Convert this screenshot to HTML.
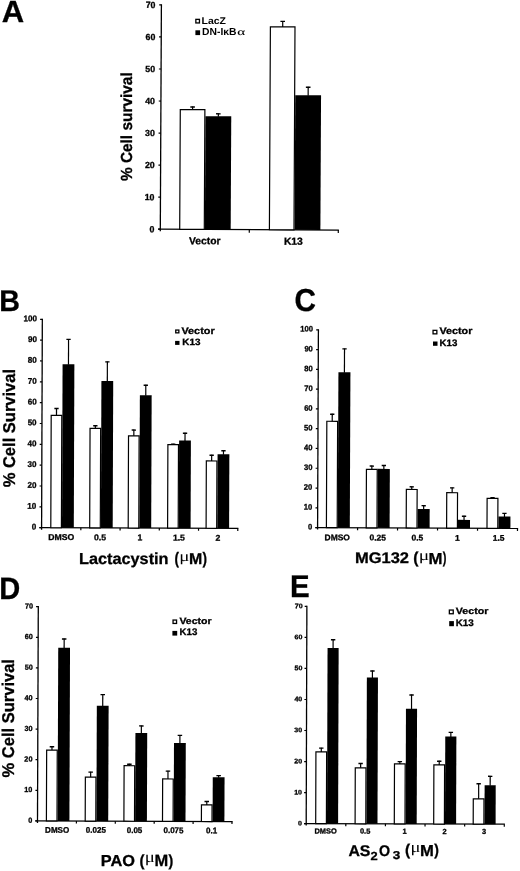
<!DOCTYPE html>
<html><head><meta charset="utf-8"><style>
html,body{margin:0;padding:0;background:#fff;}
body{width:520px;height:871px;overflow:hidden;}
svg{display:block;filter:grayscale(1);}
text{fill:#000;text-rendering:geometricPrecision;}
</style></head><body>
<svg width="520" height="871" viewBox="0 0 520 871">
<rect width="520" height="871" fill="#fff"/>
<g transform="rotate(0.28 160.3 229.2)">
<line x1="160.3" y1="4.3" x2="160.3" y2="231.2" stroke="#000" stroke-width="1.3"/>
<line x1="158.1" y1="229.2" x2="160.3" y2="229.2" stroke="#000" stroke-width="1.2"/>
<text transform="translate(149.47,232.22)" font-size="8.80" font-weight="bold" font-family='"Liberation Sans", sans-serif' stroke="#000" stroke-width="0.3" >0</text>
<line x1="158.1" y1="197.16" x2="160.3" y2="197.16" stroke="#000" stroke-width="1.2"/>
<text transform="translate(144.58,200.18)" font-size="8.80" font-weight="bold" font-family='"Liberation Sans", sans-serif' stroke="#000" stroke-width="0.3" >10</text>
<line x1="158.1" y1="165.11" x2="160.3" y2="165.11" stroke="#000" stroke-width="1.2"/>
<text transform="translate(144.58,168.14)" font-size="8.80" font-weight="bold" font-family='"Liberation Sans", sans-serif' stroke="#000" stroke-width="0.3" >20</text>
<line x1="158.1" y1="133.07" x2="160.3" y2="133.07" stroke="#000" stroke-width="1.2"/>
<text transform="translate(144.58,136.09)" font-size="8.80" font-weight="bold" font-family='"Liberation Sans", sans-serif' stroke="#000" stroke-width="0.3" >30</text>
<line x1="158.1" y1="101.03" x2="160.3" y2="101.03" stroke="#000" stroke-width="1.2"/>
<text transform="translate(144.58,104.05)" font-size="8.80" font-weight="bold" font-family='"Liberation Sans", sans-serif' stroke="#000" stroke-width="0.3" >40</text>
<line x1="158.1" y1="68.99" x2="160.3" y2="68.99" stroke="#000" stroke-width="1.2"/>
<text transform="translate(144.58,72.01)" font-size="8.80" font-weight="bold" font-family='"Liberation Sans", sans-serif' stroke="#000" stroke-width="0.3" >50</text>
<line x1="158.1" y1="36.94" x2="160.3" y2="36.94" stroke="#000" stroke-width="1.2"/>
<text transform="translate(144.58,39.97)" font-size="8.80" font-weight="bold" font-family='"Liberation Sans", sans-serif' stroke="#000" stroke-width="0.3" >60</text>
<line x1="158.1" y1="4.9" x2="160.3" y2="4.9" stroke="#000" stroke-width="1.2"/>
<text transform="translate(144.58,7.93)" font-size="8.80" font-weight="bold" font-family='"Liberation Sans", sans-serif' stroke="#000" stroke-width="0.3" >70</text>
<line x1="158.1" y1="229.2" x2="338.9" y2="229.2" stroke="#000" stroke-width="1.3"/>
<line x1="249.3" y1="229.2" x2="249.3" y2="232.2" stroke="#000" stroke-width="1.2"/>
<line x1="338.3" y1="229.2" x2="338.3" y2="232.2" stroke="#000" stroke-width="1.2"/>
<rect x="179.7" y="109.5" width="24.6" height="119.7" fill="#fff" stroke="#000" stroke-width="1.2"/>
<line x1="192" y1="109.5" x2="192" y2="106.4" stroke="#000" stroke-width="1.2"/>
<line x1="189.7" y1="106.85" x2="194.3" y2="106.85" stroke="#000" stroke-width="1.4"/>
<rect x="204.9" y="116" width="25.8" height="113.2" fill="#000"/>
<line x1="217.8" y1="116.5" x2="217.8" y2="113.1" stroke="#000" stroke-width="1.2"/>
<line x1="215.5" y1="113.55" x2="220.1" y2="113.55" stroke="#000" stroke-width="1.4"/>
<text transform="translate(189.09,244.09)" font-size="10.30" font-weight="bold" font-family='"Liberation Sans", sans-serif' stroke="#000" stroke-width="0.3" >Vector</text>
<rect x="269.4" y="26.3" width="24.6" height="202.9" fill="#fff" stroke="#000" stroke-width="1.2"/>
<line x1="281.7" y1="26.3" x2="281.7" y2="20.3" stroke="#000" stroke-width="1.2"/>
<line x1="279.4" y1="20.75" x2="284" y2="20.75" stroke="#000" stroke-width="1.4"/>
<rect x="294.6" y="94.5" width="25.8" height="134.7" fill="#000"/>
<line x1="307.5" y1="95" x2="307.5" y2="86.1" stroke="#000" stroke-width="1.2"/>
<line x1="305.2" y1="86.55" x2="309.8" y2="86.55" stroke="#000" stroke-width="1.4"/>
<text transform="translate(284,244.13)" font-size="10.30" font-weight="bold" font-family='"Liberation Sans", sans-serif' stroke="#000" stroke-width="0.3" >K13</text>
</g>
<g transform="rotate(0.2 41.6 527.7)">
<line x1="41.6" y1="318.7" x2="41.6" y2="529.7" stroke="#000" stroke-width="1.3"/>
<line x1="39.4" y1="527.7" x2="41.6" y2="527.7" stroke="#000" stroke-width="1.2"/>
<text transform="translate(31.75,529.6) scale(0.970,1)" font-size="8.30" font-weight="bold" font-family='"Liberation Sans", sans-serif' stroke="#000" stroke-width="0.3" >0</text>
<line x1="39.4" y1="506.86" x2="41.6" y2="506.86" stroke="#000" stroke-width="1.2"/>
<text transform="translate(27.29,508.76) scale(0.970,1)" font-size="8.30" font-weight="bold" font-family='"Liberation Sans", sans-serif' stroke="#000" stroke-width="0.3" >10</text>
<line x1="39.4" y1="486.02" x2="41.6" y2="486.02" stroke="#000" stroke-width="1.2"/>
<text transform="translate(27.29,487.92) scale(0.970,1)" font-size="8.30" font-weight="bold" font-family='"Liberation Sans", sans-serif' stroke="#000" stroke-width="0.3" >20</text>
<line x1="39.4" y1="465.18" x2="41.6" y2="465.18" stroke="#000" stroke-width="1.2"/>
<text transform="translate(27.29,467.07) scale(0.970,1)" font-size="8.30" font-weight="bold" font-family='"Liberation Sans", sans-serif' stroke="#000" stroke-width="0.3" >30</text>
<line x1="39.4" y1="444.34" x2="41.6" y2="444.34" stroke="#000" stroke-width="1.2"/>
<text transform="translate(27.29,446.24) scale(0.970,1)" font-size="8.30" font-weight="bold" font-family='"Liberation Sans", sans-serif' stroke="#000" stroke-width="0.3" >40</text>
<line x1="39.4" y1="423.5" x2="41.6" y2="423.5" stroke="#000" stroke-width="1.2"/>
<text transform="translate(27.29,425.4) scale(0.970,1)" font-size="8.30" font-weight="bold" font-family='"Liberation Sans", sans-serif' stroke="#000" stroke-width="0.3" >50</text>
<line x1="39.4" y1="402.66" x2="41.6" y2="402.66" stroke="#000" stroke-width="1.2"/>
<text transform="translate(27.29,404.56) scale(0.970,1)" font-size="8.30" font-weight="bold" font-family='"Liberation Sans", sans-serif' stroke="#000" stroke-width="0.3" >60</text>
<line x1="39.4" y1="381.82" x2="41.6" y2="381.82" stroke="#000" stroke-width="1.2"/>
<text transform="translate(27.29,383.72) scale(0.970,1)" font-size="8.30" font-weight="bold" font-family='"Liberation Sans", sans-serif' stroke="#000" stroke-width="0.3" >70</text>
<line x1="39.4" y1="360.98" x2="41.6" y2="360.98" stroke="#000" stroke-width="1.2"/>
<text transform="translate(27.29,362.88) scale(0.970,1)" font-size="8.30" font-weight="bold" font-family='"Liberation Sans", sans-serif' stroke="#000" stroke-width="0.3" >80</text>
<line x1="39.4" y1="340.14" x2="41.6" y2="340.14" stroke="#000" stroke-width="1.2"/>
<text transform="translate(27.29,342.04) scale(0.970,1)" font-size="8.30" font-weight="bold" font-family='"Liberation Sans", sans-serif' stroke="#000" stroke-width="0.3" >90</text>
<line x1="39.4" y1="319.3" x2="41.6" y2="319.3" stroke="#000" stroke-width="1.2"/>
<text transform="translate(22.8,321.2) scale(0.970,1)" font-size="8.30" font-weight="bold" font-family='"Liberation Sans", sans-serif' stroke="#000" stroke-width="0.3" >100</text>
<line x1="39.4" y1="527.7" x2="238.4" y2="527.7" stroke="#000" stroke-width="1.3"/>
<line x1="80.84" y1="527.7" x2="80.84" y2="530.2" stroke="#000" stroke-width="1.2"/>
<line x1="120.08" y1="527.7" x2="120.08" y2="530.2" stroke="#000" stroke-width="1.2"/>
<line x1="159.32" y1="527.7" x2="159.32" y2="530.2" stroke="#000" stroke-width="1.2"/>
<line x1="198.56" y1="527.7" x2="198.56" y2="530.2" stroke="#000" stroke-width="1.2"/>
<line x1="237.8" y1="527.7" x2="237.8" y2="530.2" stroke="#000" stroke-width="1.2"/>
<rect x="50.8" y="415.4" width="10.6" height="112.3" fill="#fff" stroke="#000" stroke-width="1.2"/>
<line x1="56.1" y1="415.4" x2="56.1" y2="408" stroke="#000" stroke-width="1.2"/>
<line x1="53.95" y1="408.45" x2="58.25" y2="408.45" stroke="#000" stroke-width="1.4"/>
<rect x="62" y="364.1" width="11.8" height="163.6" fill="#000"/>
<line x1="67.9" y1="364.6" x2="67.9" y2="338.8" stroke="#000" stroke-width="1.2"/>
<line x1="65.75" y1="339.25" x2="70.05" y2="339.25" stroke="#000" stroke-width="1.4"/>
<text transform="translate(48.19,540.02) scale(1.020,1)" font-size="8.50" font-weight="bold" font-family='"Liberation Sans", sans-serif' stroke="#000" stroke-width="0.3" >DMSO</text>
<rect x="89.7" y="428.2" width="10.6" height="99.5" fill="#fff" stroke="#000" stroke-width="1.2"/>
<line x1="95" y1="428.2" x2="95" y2="425.1" stroke="#000" stroke-width="1.2"/>
<line x1="92.85" y1="425.55" x2="97.15" y2="425.55" stroke="#000" stroke-width="1.4"/>
<rect x="100.9" y="380.8" width="11.8" height="146.9" fill="#000"/>
<line x1="106.8" y1="381.3" x2="106.8" y2="361.2" stroke="#000" stroke-width="1.2"/>
<line x1="104.65" y1="361.65" x2="108.95" y2="361.65" stroke="#000" stroke-width="1.4"/>
<text transform="translate(94.02,540.02) scale(1.020,1)" font-size="8.50" font-weight="bold" font-family='"Liberation Sans", sans-serif' stroke="#000" stroke-width="0.3" >0.5</text>
<rect x="128.2" y="435.5" width="10.6" height="92.2" fill="#fff" stroke="#000" stroke-width="1.2"/>
<line x1="133.5" y1="435.5" x2="133.5" y2="429.3" stroke="#000" stroke-width="1.2"/>
<line x1="131.35" y1="429.75" x2="135.65" y2="429.75" stroke="#000" stroke-width="1.4"/>
<rect x="139.4" y="394.9" width="11.8" height="132.8" fill="#000"/>
<line x1="145.3" y1="395.4" x2="145.3" y2="384.5" stroke="#000" stroke-width="1.2"/>
<line x1="143.15" y1="384.95" x2="147.45" y2="384.95" stroke="#000" stroke-width="1.4"/>
<text transform="translate(137.64,540.02) scale(1.020,1)" font-size="8.50" font-weight="bold" font-family='"Liberation Sans", sans-serif' stroke="#000" stroke-width="0.3" >1</text>
<rect x="167.6" y="444.2" width="10.6" height="83.5" fill="#fff" stroke="#000" stroke-width="1.2"/>
<line x1="172.9" y1="444.2" x2="172.9" y2="443.3" stroke="#000" stroke-width="1.2"/>
<line x1="170.75" y1="443.75" x2="175.05" y2="443.75" stroke="#000" stroke-width="1.4"/>
<rect x="178.8" y="439.9" width="11.8" height="87.8" fill="#000"/>
<line x1="184.7" y1="440.4" x2="184.7" y2="432.3" stroke="#000" stroke-width="1.2"/>
<line x1="182.55" y1="432.75" x2="186.85" y2="432.75" stroke="#000" stroke-width="1.4"/>
<text transform="translate(172.92,539.98) scale(1.020,1)" font-size="8.50" font-weight="bold" font-family='"Liberation Sans", sans-serif' stroke="#000" stroke-width="0.3" >1.5</text>
<rect x="206.1" y="460.4" width="10.6" height="67.3" fill="#fff" stroke="#000" stroke-width="1.2"/>
<line x1="211.4" y1="460.4" x2="211.4" y2="454.2" stroke="#000" stroke-width="1.2"/>
<line x1="209.25" y1="454.65" x2="213.55" y2="454.65" stroke="#000" stroke-width="1.4"/>
<rect x="217.3" y="453.7" width="11.8" height="74" fill="#000"/>
<line x1="223.2" y1="454.2" x2="223.2" y2="449.6" stroke="#000" stroke-width="1.2"/>
<line x1="221.05" y1="450.05" x2="225.35" y2="450.05" stroke="#000" stroke-width="1.4"/>
<text transform="translate(215.62,540.06) scale(1.020,1)" font-size="8.50" font-weight="bold" font-family='"Liberation Sans", sans-serif' stroke="#000" stroke-width="0.3" >2</text>
</g>
<g transform="rotate(0.23 317.6 527.6)">
<line x1="317.6" y1="329.2" x2="317.6" y2="529.6" stroke="#000" stroke-width="1.3"/>
<line x1="315.4" y1="527.6" x2="317.6" y2="527.6" stroke="#000" stroke-width="1.2"/>
<text transform="translate(307.89,529.45) scale(0.950,1)" font-size="8.00" font-weight="bold" font-family='"Liberation Sans", sans-serif' stroke="#000" stroke-width="0.3" >0</text>
<line x1="315.4" y1="507.82" x2="317.6" y2="507.82" stroke="#000" stroke-width="1.2"/>
<text transform="translate(303.67,509.67) scale(0.950,1)" font-size="8.00" font-weight="bold" font-family='"Liberation Sans", sans-serif' stroke="#000" stroke-width="0.3" >10</text>
<line x1="315.4" y1="488.04" x2="317.6" y2="488.04" stroke="#000" stroke-width="1.2"/>
<text transform="translate(303.67,489.89) scale(0.950,1)" font-size="8.00" font-weight="bold" font-family='"Liberation Sans", sans-serif' stroke="#000" stroke-width="0.3" >20</text>
<line x1="315.4" y1="468.26" x2="317.6" y2="468.26" stroke="#000" stroke-width="1.2"/>
<text transform="translate(303.67,470.1) scale(0.950,1)" font-size="8.00" font-weight="bold" font-family='"Liberation Sans", sans-serif' stroke="#000" stroke-width="0.3" >30</text>
<line x1="315.4" y1="448.48" x2="317.6" y2="448.48" stroke="#000" stroke-width="1.2"/>
<text transform="translate(303.67,450.33) scale(0.950,1)" font-size="8.00" font-weight="bold" font-family='"Liberation Sans", sans-serif' stroke="#000" stroke-width="0.3" >40</text>
<line x1="315.4" y1="428.7" x2="317.6" y2="428.7" stroke="#000" stroke-width="1.2"/>
<text transform="translate(303.67,430.55) scale(0.950,1)" font-size="8.00" font-weight="bold" font-family='"Liberation Sans", sans-serif' stroke="#000" stroke-width="0.3" >50</text>
<line x1="315.4" y1="408.92" x2="317.6" y2="408.92" stroke="#000" stroke-width="1.2"/>
<text transform="translate(303.67,410.77) scale(0.950,1)" font-size="8.00" font-weight="bold" font-family='"Liberation Sans", sans-serif' stroke="#000" stroke-width="0.3" >60</text>
<line x1="315.4" y1="389.14" x2="317.6" y2="389.14" stroke="#000" stroke-width="1.2"/>
<text transform="translate(303.67,390.99) scale(0.950,1)" font-size="8.00" font-weight="bold" font-family='"Liberation Sans", sans-serif' stroke="#000" stroke-width="0.3" >70</text>
<line x1="315.4" y1="369.36" x2="317.6" y2="369.36" stroke="#000" stroke-width="1.2"/>
<text transform="translate(303.67,371.21) scale(0.950,1)" font-size="8.00" font-weight="bold" font-family='"Liberation Sans", sans-serif' stroke="#000" stroke-width="0.3" >80</text>
<line x1="315.4" y1="349.58" x2="317.6" y2="349.58" stroke="#000" stroke-width="1.2"/>
<text transform="translate(303.67,351.43) scale(0.950,1)" font-size="8.00" font-weight="bold" font-family='"Liberation Sans", sans-serif' stroke="#000" stroke-width="0.3" >90</text>
<line x1="315.4" y1="329.8" x2="317.6" y2="329.8" stroke="#000" stroke-width="1.2"/>
<text transform="translate(299.43,331.65) scale(0.950,1)" font-size="8.00" font-weight="bold" font-family='"Liberation Sans", sans-serif' stroke="#000" stroke-width="0.3" >100</text>
<line x1="315.4" y1="527.6" x2="518.1" y2="527.6" stroke="#000" stroke-width="1.3"/>
<line x1="357.58" y1="527.6" x2="357.58" y2="530.1" stroke="#000" stroke-width="1.2"/>
<line x1="397.56" y1="527.6" x2="397.56" y2="530.1" stroke="#000" stroke-width="1.2"/>
<line x1="437.54" y1="527.6" x2="437.54" y2="530.1" stroke="#000" stroke-width="1.2"/>
<line x1="477.52" y1="527.6" x2="477.52" y2="530.1" stroke="#000" stroke-width="1.2"/>
<line x1="517.5" y1="527.6" x2="517.5" y2="530.1" stroke="#000" stroke-width="1.2"/>
<rect x="326.4" y="421.2" width="10.8" height="106.4" fill="#fff" stroke="#000" stroke-width="1.2"/>
<line x1="331.8" y1="421.2" x2="331.8" y2="413.7" stroke="#000" stroke-width="1.2"/>
<line x1="329.65" y1="414.15" x2="333.95" y2="414.15" stroke="#000" stroke-width="1.4"/>
<rect x="337.8" y="372.2" width="12" height="155.4" fill="#000"/>
<line x1="343.8" y1="372.7" x2="343.8" y2="348.3" stroke="#000" stroke-width="1.2"/>
<line x1="341.65" y1="348.75" x2="345.95" y2="348.75" stroke="#000" stroke-width="1.4"/>
<text transform="translate(324.6,540.15) scale(1.020,1)" font-size="8.30" font-weight="bold" font-family='"Liberation Sans", sans-serif' stroke="#000" stroke-width="0.3" >DMSO</text>
<rect x="366.2" y="469.1" width="10.8" height="58.5" fill="#fff" stroke="#000" stroke-width="1.2"/>
<line x1="371.6" y1="469.1" x2="371.6" y2="465.4" stroke="#000" stroke-width="1.2"/>
<line x1="369.45" y1="465.85" x2="373.75" y2="465.85" stroke="#000" stroke-width="1.4"/>
<rect x="377.6" y="468.6" width="12" height="59" fill="#000"/>
<line x1="383.6" y1="469.1" x2="383.6" y2="464.8" stroke="#000" stroke-width="1.2"/>
<line x1="381.45" y1="465.25" x2="385.75" y2="465.25" stroke="#000" stroke-width="1.4"/>
<text transform="translate(369.61,540.15) scale(1.020,1)" font-size="8.30" font-weight="bold" font-family='"Liberation Sans", sans-serif' stroke="#000" stroke-width="0.3" >0.25</text>
<rect x="406.2" y="489.1" width="10.8" height="38.5" fill="#fff" stroke="#000" stroke-width="1.2"/>
<line x1="411.6" y1="489.1" x2="411.6" y2="486" stroke="#000" stroke-width="1.2"/>
<line x1="409.45" y1="486.45" x2="413.75" y2="486.45" stroke="#000" stroke-width="1.4"/>
<rect x="417.6" y="508.6" width="12" height="19" fill="#000"/>
<line x1="423.6" y1="509.1" x2="423.6" y2="504.8" stroke="#000" stroke-width="1.2"/>
<line x1="421.45" y1="505.25" x2="425.75" y2="505.25" stroke="#000" stroke-width="1.4"/>
<text transform="translate(411.56,540.15) scale(1.020,1)" font-size="8.30" font-weight="bold" font-family='"Liberation Sans", sans-serif' stroke="#000" stroke-width="0.3" >0.5</text>
<rect x="446.6" y="492.2" width="10.8" height="35.4" fill="#fff" stroke="#000" stroke-width="1.2"/>
<line x1="452" y1="492.2" x2="452" y2="486.9" stroke="#000" stroke-width="1.2"/>
<line x1="449.85" y1="487.35" x2="454.15" y2="487.35" stroke="#000" stroke-width="1.4"/>
<rect x="458" y="519.3" width="12" height="8.3" fill="#000"/>
<line x1="464" y1="519.8" x2="464" y2="515.2" stroke="#000" stroke-width="1.2"/>
<line x1="461.85" y1="515.65" x2="466.15" y2="515.65" stroke="#000" stroke-width="1.4"/>
<text transform="translate(455,540.15) scale(1.020,1)" font-size="8.30" font-weight="bold" font-family='"Liberation Sans", sans-serif' stroke="#000" stroke-width="0.3" >1</text>
<rect x="487" y="497.7" width="10.8" height="29.9" fill="#fff" stroke="#000" stroke-width="1.2"/>
<line x1="492.4" y1="497.7" x2="492.4" y2="496.5" stroke="#000" stroke-width="1.2"/>
<line x1="490.25" y1="496.95" x2="494.55" y2="496.95" stroke="#000" stroke-width="1.4"/>
<rect x="498.4" y="515.7" width="12" height="11.9" fill="#000"/>
<line x1="504.4" y1="516.2" x2="504.4" y2="512.2" stroke="#000" stroke-width="1.2"/>
<line x1="502.25" y1="512.65" x2="506.55" y2="512.65" stroke="#000" stroke-width="1.4"/>
<text transform="translate(492.77,540.11) scale(1.020,1)" font-size="8.30" font-weight="bold" font-family='"Liberation Sans", sans-serif' stroke="#000" stroke-width="0.3" >1.5</text>
</g>
<g transform="rotate(0.21 37.5 820.9)">
<line x1="37.5" y1="606.1" x2="37.5" y2="822.9" stroke="#000" stroke-width="1.3"/>
<line x1="35.3" y1="820.9" x2="37.5" y2="820.9" stroke="#000" stroke-width="1.2"/>
<text transform="translate(28.17,822.74) scale(0.980,1)" font-size="7.40" font-weight="bold" font-family='"Liberation Sans", sans-serif' stroke="#000" stroke-width="0.3" >0</text>
<line x1="35.3" y1="790.3" x2="37.5" y2="790.3" stroke="#000" stroke-width="1.2"/>
<text transform="translate(24.14,792.14) scale(0.980,1)" font-size="7.40" font-weight="bold" font-family='"Liberation Sans", sans-serif' stroke="#000" stroke-width="0.3" >10</text>
<line x1="35.3" y1="759.7" x2="37.5" y2="759.7" stroke="#000" stroke-width="1.2"/>
<text transform="translate(24.14,761.54) scale(0.980,1)" font-size="7.40" font-weight="bold" font-family='"Liberation Sans", sans-serif' stroke="#000" stroke-width="0.3" >20</text>
<line x1="35.3" y1="729.1" x2="37.5" y2="729.1" stroke="#000" stroke-width="1.2"/>
<text transform="translate(24.14,730.93) scale(0.980,1)" font-size="7.40" font-weight="bold" font-family='"Liberation Sans", sans-serif' stroke="#000" stroke-width="0.3" >30</text>
<line x1="35.3" y1="698.5" x2="37.5" y2="698.5" stroke="#000" stroke-width="1.2"/>
<text transform="translate(24.14,700.34) scale(0.980,1)" font-size="7.40" font-weight="bold" font-family='"Liberation Sans", sans-serif' stroke="#000" stroke-width="0.3" >40</text>
<line x1="35.3" y1="667.9" x2="37.5" y2="667.9" stroke="#000" stroke-width="1.2"/>
<text transform="translate(24.14,669.74) scale(0.980,1)" font-size="7.40" font-weight="bold" font-family='"Liberation Sans", sans-serif' stroke="#000" stroke-width="0.3" >50</text>
<line x1="35.3" y1="637.3" x2="37.5" y2="637.3" stroke="#000" stroke-width="1.2"/>
<text transform="translate(24.14,639.14) scale(0.980,1)" font-size="7.40" font-weight="bold" font-family='"Liberation Sans", sans-serif' stroke="#000" stroke-width="0.3" >60</text>
<line x1="35.3" y1="606.7" x2="37.5" y2="606.7" stroke="#000" stroke-width="1.2"/>
<text transform="translate(24.14,608.54) scale(0.980,1)" font-size="7.40" font-weight="bold" font-family='"Liberation Sans", sans-serif' stroke="#000" stroke-width="0.3" >70</text>
<line x1="35.3" y1="820.9" x2="232.6" y2="820.9" stroke="#000" stroke-width="1.3"/>
<line x1="76.4" y1="820.9" x2="76.4" y2="823.4" stroke="#000" stroke-width="1.2"/>
<line x1="115.3" y1="820.9" x2="115.3" y2="823.4" stroke="#000" stroke-width="1.2"/>
<line x1="154.2" y1="820.9" x2="154.2" y2="823.4" stroke="#000" stroke-width="1.2"/>
<line x1="193.1" y1="820.9" x2="193.1" y2="823.4" stroke="#000" stroke-width="1.2"/>
<line x1="232" y1="820.9" x2="232" y2="823.4" stroke="#000" stroke-width="1.2"/>
<rect x="46.4" y="750" width="10.6" height="70.9" fill="#fff" stroke="#000" stroke-width="1.2"/>
<line x1="51.7" y1="750" x2="51.7" y2="746.2" stroke="#000" stroke-width="1.2"/>
<line x1="49.45" y1="746.65" x2="53.95" y2="746.65" stroke="#000" stroke-width="1.4"/>
<rect x="57.6" y="647.7" width="11.8" height="173.2" fill="#000"/>
<line x1="63.5" y1="648.2" x2="63.5" y2="638.5" stroke="#000" stroke-width="1.2"/>
<line x1="61.25" y1="638.95" x2="65.75" y2="638.95" stroke="#000" stroke-width="1.4"/>
<text transform="translate(45.15,832.62) scale(0.980,1)" font-size="8.20" font-weight="bold" font-family='"Liberation Sans", sans-serif' stroke="#000" stroke-width="0.3" >DMSO</text>
<rect x="85.2" y="776.9" width="10.6" height="44" fill="#fff" stroke="#000" stroke-width="1.2"/>
<line x1="90.5" y1="776.9" x2="90.5" y2="771.5" stroke="#000" stroke-width="1.2"/>
<line x1="88.25" y1="771.95" x2="92.75" y2="771.95" stroke="#000" stroke-width="1.4"/>
<rect x="96.4" y="705.6" width="11.8" height="115.3" fill="#000"/>
<line x1="102.3" y1="706.1" x2="102.3" y2="693.9" stroke="#000" stroke-width="1.2"/>
<line x1="100.05" y1="694.35" x2="104.55" y2="694.35" stroke="#000" stroke-width="1.4"/>
<text transform="translate(85.89,832.62) scale(0.980,1)" font-size="8.20" font-weight="bold" font-family='"Liberation Sans", sans-serif' stroke="#000" stroke-width="0.3" >0.025</text>
<rect x="123.9" y="765.4" width="10.6" height="55.5" fill="#fff" stroke="#000" stroke-width="1.2"/>
<line x1="129.2" y1="765.4" x2="129.2" y2="763.5" stroke="#000" stroke-width="1.2"/>
<line x1="126.95" y1="763.95" x2="131.45" y2="763.95" stroke="#000" stroke-width="1.4"/>
<rect x="135.1" y="732.7" width="11.8" height="88.2" fill="#000"/>
<line x1="141" y1="733.2" x2="141" y2="725.1" stroke="#000" stroke-width="1.2"/>
<line x1="138.75" y1="725.55" x2="143.25" y2="725.55" stroke="#000" stroke-width="1.4"/>
<text transform="translate(126.73,832.62) scale(0.980,1)" font-size="8.20" font-weight="bold" font-family='"Liberation Sans", sans-serif' stroke="#000" stroke-width="0.3" >0.05</text>
<rect x="162.5" y="778.5" width="10.6" height="42.4" fill="#fff" stroke="#000" stroke-width="1.2"/>
<line x1="167.8" y1="778.5" x2="167.8" y2="770.2" stroke="#000" stroke-width="1.2"/>
<line x1="165.55" y1="770.65" x2="170.05" y2="770.65" stroke="#000" stroke-width="1.4"/>
<rect x="173.7" y="742.5" width="11.8" height="78.4" fill="#000"/>
<line x1="179.6" y1="743" x2="179.6" y2="734.4" stroke="#000" stroke-width="1.2"/>
<line x1="177.35" y1="734.85" x2="181.85" y2="734.85" stroke="#000" stroke-width="1.4"/>
<text transform="translate(163.49,832.62) scale(0.980,1)" font-size="8.20" font-weight="bold" font-family='"Liberation Sans", sans-serif' stroke="#000" stroke-width="0.3" >0.075</text>
<rect x="201.4" y="804.3" width="10.6" height="16.6" fill="#fff" stroke="#000" stroke-width="1.2"/>
<line x1="206.7" y1="804.3" x2="206.7" y2="800.4" stroke="#000" stroke-width="1.2"/>
<line x1="204.45" y1="800.85" x2="208.95" y2="800.85" stroke="#000" stroke-width="1.4"/>
<rect x="212.6" y="776.6" width="11.8" height="44.3" fill="#000"/>
<line x1="218.5" y1="777.1" x2="218.5" y2="774.5" stroke="#000" stroke-width="1.2"/>
<line x1="216.25" y1="774.95" x2="220.75" y2="774.95" stroke="#000" stroke-width="1.4"/>
<text transform="translate(206.16,832.62) scale(0.980,1)" font-size="8.20" font-weight="bold" font-family='"Liberation Sans", sans-serif' stroke="#000" stroke-width="0.3" >0.1</text>
</g>
<g transform="rotate(0.18 306.2 823.6)">
<line x1="306.2" y1="605.8" x2="306.2" y2="825.6" stroke="#000" stroke-width="1.3"/>
<line x1="304" y1="823.6" x2="306.2" y2="823.6" stroke="#000" stroke-width="1.2"/>
<text transform="translate(297.96,825.47) scale(1.070,1)" font-size="6.60" font-weight="bold" font-family='"Liberation Sans", sans-serif' stroke="#000" stroke-width="0.3" >0</text>
<line x1="304" y1="792.57" x2="306.2" y2="792.57" stroke="#000" stroke-width="1.2"/>
<text transform="translate(294.04,794.44) scale(1.070,1)" font-size="6.60" font-weight="bold" font-family='"Liberation Sans", sans-serif' stroke="#000" stroke-width="0.3" >10</text>
<line x1="304" y1="761.54" x2="306.2" y2="761.54" stroke="#000" stroke-width="1.2"/>
<text transform="translate(294.04,763.41) scale(1.070,1)" font-size="6.60" font-weight="bold" font-family='"Liberation Sans", sans-serif' stroke="#000" stroke-width="0.3" >20</text>
<line x1="304" y1="730.51" x2="306.2" y2="730.51" stroke="#000" stroke-width="1.2"/>
<text transform="translate(294.04,732.37) scale(1.070,1)" font-size="6.60" font-weight="bold" font-family='"Liberation Sans", sans-serif' stroke="#000" stroke-width="0.3" >30</text>
<line x1="304" y1="699.49" x2="306.2" y2="699.49" stroke="#000" stroke-width="1.2"/>
<text transform="translate(294.04,701.35) scale(1.070,1)" font-size="6.60" font-weight="bold" font-family='"Liberation Sans", sans-serif' stroke="#000" stroke-width="0.3" >40</text>
<line x1="304" y1="668.46" x2="306.2" y2="668.46" stroke="#000" stroke-width="1.2"/>
<text transform="translate(294.04,670.33) scale(1.070,1)" font-size="6.60" font-weight="bold" font-family='"Liberation Sans", sans-serif' stroke="#000" stroke-width="0.3" >50</text>
<line x1="304" y1="637.43" x2="306.2" y2="637.43" stroke="#000" stroke-width="1.2"/>
<text transform="translate(294.04,639.3) scale(1.070,1)" font-size="6.60" font-weight="bold" font-family='"Liberation Sans", sans-serif' stroke="#000" stroke-width="0.3" >60</text>
<line x1="304" y1="606.4" x2="306.2" y2="606.4" stroke="#000" stroke-width="1.2"/>
<text transform="translate(294.04,608.27) scale(1.070,1)" font-size="6.60" font-weight="bold" font-family='"Liberation Sans", sans-serif' stroke="#000" stroke-width="0.3" >70</text>
<line x1="304" y1="823.6" x2="504.9" y2="823.6" stroke="#000" stroke-width="1.3"/>
<line x1="345.82" y1="823.6" x2="345.82" y2="826.1" stroke="#000" stroke-width="1.2"/>
<line x1="385.44" y1="823.6" x2="385.44" y2="826.1" stroke="#000" stroke-width="1.2"/>
<line x1="425.06" y1="823.6" x2="425.06" y2="826.1" stroke="#000" stroke-width="1.2"/>
<line x1="464.68" y1="823.6" x2="464.68" y2="826.1" stroke="#000" stroke-width="1.2"/>
<line x1="504.3" y1="823.6" x2="504.3" y2="826.1" stroke="#000" stroke-width="1.2"/>
<rect x="315.7" y="751.9" width="10.7" height="71.7" fill="#fff" stroke="#000" stroke-width="1.2"/>
<line x1="321.05" y1="751.9" x2="321.05" y2="747.6" stroke="#000" stroke-width="1.2"/>
<line x1="318.85" y1="748.05" x2="323.25" y2="748.05" stroke="#000" stroke-width="1.4"/>
<rect x="327" y="648" width="11.1" height="175.6" fill="#000"/>
<line x1="332.55" y1="648.5" x2="332.55" y2="639.2" stroke="#000" stroke-width="1.2"/>
<line x1="330.35" y1="639.65" x2="334.75" y2="639.65" stroke="#000" stroke-width="1.4"/>
<text transform="translate(314.51,833.44)" font-size="7.40" font-weight="bold" font-family='"Liberation Sans", sans-serif' stroke="#000" stroke-width="0.3" >DMSO</text>
<rect x="355.1" y="767.7" width="10.7" height="55.9" fill="#fff" stroke="#000" stroke-width="1.2"/>
<line x1="360.45" y1="767.7" x2="360.45" y2="762.9" stroke="#000" stroke-width="1.2"/>
<line x1="358.25" y1="763.35" x2="362.65" y2="763.35" stroke="#000" stroke-width="1.4"/>
<rect x="366.4" y="677.3" width="11.1" height="146.3" fill="#000"/>
<line x1="371.95" y1="677.8" x2="371.95" y2="670.4" stroke="#000" stroke-width="1.2"/>
<line x1="369.75" y1="670.85" x2="374.15" y2="670.85" stroke="#000" stroke-width="1.4"/>
<text transform="translate(360.01,833.44)" font-size="7.40" font-weight="bold" font-family='"Liberation Sans", sans-serif' stroke="#000" stroke-width="0.3" >0.5</text>
<rect x="394.3" y="763.6" width="10.7" height="60" fill="#fff" stroke="#000" stroke-width="1.2"/>
<line x1="399.65" y1="763.6" x2="399.65" y2="760.9" stroke="#000" stroke-width="1.2"/>
<line x1="397.45" y1="761.35" x2="401.85" y2="761.35" stroke="#000" stroke-width="1.4"/>
<rect x="405.6" y="708.5" width="11.1" height="115.1" fill="#000"/>
<line x1="411.15" y1="709" x2="411.15" y2="694.2" stroke="#000" stroke-width="1.2"/>
<line x1="408.95" y1="694.65" x2="413.35" y2="694.65" stroke="#000" stroke-width="1.4"/>
<text transform="translate(402.62,833.44)" font-size="7.40" font-weight="bold" font-family='"Liberation Sans", sans-serif' stroke="#000" stroke-width="0.3" >1</text>
<rect x="433.7" y="764.5" width="10.7" height="59.1" fill="#fff" stroke="#000" stroke-width="1.2"/>
<line x1="439.05" y1="764.5" x2="439.05" y2="760.4" stroke="#000" stroke-width="1.2"/>
<line x1="436.85" y1="760.85" x2="441.25" y2="760.85" stroke="#000" stroke-width="1.4"/>
<rect x="445" y="736" width="11.1" height="87.6" fill="#000"/>
<line x1="450.55" y1="736.5" x2="450.55" y2="731.5" stroke="#000" stroke-width="1.2"/>
<line x1="448.35" y1="731.95" x2="452.75" y2="731.95" stroke="#000" stroke-width="1.4"/>
<text transform="translate(442.56,833.48)" font-size="7.40" font-weight="bold" font-family='"Liberation Sans", sans-serif' stroke="#000" stroke-width="0.3" >2</text>
<rect x="473.2" y="798.3" width="10.7" height="25.3" fill="#fff" stroke="#000" stroke-width="1.2"/>
<line x1="478.55" y1="798.3" x2="478.55" y2="782.7" stroke="#000" stroke-width="1.2"/>
<line x1="476.35" y1="783.15" x2="480.75" y2="783.15" stroke="#000" stroke-width="1.4"/>
<rect x="484.5" y="784.7" width="11.1" height="38.9" fill="#000"/>
<line x1="490.05" y1="785.2" x2="490.05" y2="775.3" stroke="#000" stroke-width="1.2"/>
<line x1="487.85" y1="775.75" x2="492.25" y2="775.75" stroke="#000" stroke-width="1.4"/>
<text transform="translate(482.09,833.43)" font-size="7.40" font-weight="bold" font-family='"Liberation Sans", sans-serif' stroke="#000" stroke-width="0.3" >3</text>
</g>
<text transform="translate(1.82,21.9) scale(1.016,1)" font-size="30.55" font-weight="bold" font-family='"Liberation Sans", sans-serif' stroke="#000" stroke-width="0.3" >A</text>
<text transform="translate(-0.64,310.7) scale(0.957,1)" font-size="29.96" font-weight="bold" font-family='"Liberation Sans", sans-serif' stroke="#000" stroke-width="0.3" >B</text>
<text transform="translate(294.41,310.88) scale(0.936,1)" font-size="31.80" font-weight="bold" font-family='"Liberation Sans", sans-serif' stroke="#000" stroke-width="0.3" >C</text>
<text transform="translate(-0.76,598.6) scale(0.938,1)" font-size="30.98" font-weight="bold" font-family='"Liberation Sans", sans-serif' stroke="#000" stroke-width="0.3" >D</text>
<text transform="translate(290.11,596.8) scale(0.938,1)" font-size="31.42" font-weight="bold" font-family='"Liberation Sans", sans-serif' stroke="#000" stroke-width="0.3" >E</text>
<rect x="195.85" y="19.35" width="3.6" height="3.6" fill="#fff" stroke="#000" stroke-width="1.3"/>
<text transform="translate(201.49,23.5) scale(1.073,1)" font-size="9.75" font-weight="bold" font-family='"Liberation Sans", sans-serif' >LacZ</text>
<rect x="195.4" y="30.3" width="4.7" height="4.8" fill="#000"/>
<text transform="translate(202.1,35.1) scale(1.015,1)" font-size="10.18" font-weight="bold" font-family='"Liberation Sans", sans-serif' >DN-IκB</text>
<text transform="translate(237.14,35) scale(1.513,1)" font-size="9.95" font-weight="normal" font-family='"Liberation Serif", serif' stroke="#000" stroke-width="0.1" >α</text>
<rect x="175.75" y="330.05" width="3.1" height="2.8" fill="#fff" stroke="#000" stroke-width="1.3"/>
<text transform="translate(181.42,334) scale(1.132,1)" font-size="9.61" font-weight="bold" font-family='"Liberation Sans", sans-serif' stroke="#000" stroke-width="0.3" >Vector</text>
<rect x="175.1" y="340.9" width="4.4" height="4" fill="#000"/>
<text transform="translate(182.23,345.19) scale(1.086,1)" font-size="9.15" font-weight="bold" font-family='"Liberation Sans", sans-serif' stroke="#000" stroke-width="0.3" >K13</text>
<rect x="433.05" y="330.35" width="3.8" height="3.5" fill="#fff" stroke="#000" stroke-width="1.3"/>
<text transform="translate(439.42,334.4) scale(1.122,1)" font-size="9.61" font-weight="bold" font-family='"Liberation Sans", sans-serif' stroke="#000" stroke-width="0.3" >Vector</text>
<rect x="433" y="341.5" width="4.5" height="4.3" fill="#000"/>
<text transform="translate(439.54,345.68) scale(1.045,1)" font-size="9.30" font-weight="bold" font-family='"Liberation Sans", sans-serif' stroke="#000" stroke-width="0.3" >K13</text>
<rect x="173.05" y="620.05" width="3.5" height="3.4" fill="#fff" stroke="#000" stroke-width="1.3"/>
<text transform="translate(179.42,624.01) scale(1.146,1)" font-size="9.18" font-weight="bold" font-family='"Liberation Sans", sans-serif' stroke="#000" stroke-width="0.3" >Vector</text>
<rect x="172.4" y="630.9" width="4.8" height="4.7" fill="#000"/>
<text transform="translate(179.54,635.48) scale(1.014,1)" font-size="9.58" font-weight="bold" font-family='"Liberation Sans", sans-serif' stroke="#000" stroke-width="0.3" >K13</text>
<rect x="449.35" y="610.05" width="3.9" height="3.7" fill="#fff" stroke="#000" stroke-width="1.3"/>
<text transform="translate(455.82,614.41) scale(1.160,1)" font-size="9.18" font-weight="bold" font-family='"Liberation Sans", sans-serif' stroke="#000" stroke-width="0.3" >Vector</text>
<rect x="449.2" y="621.1" width="4.7" height="5.1" fill="#000"/>
<text transform="translate(455.74,625.88) scale(1.026,1)" font-size="9.58" font-weight="bold" font-family='"Liberation Sans", sans-serif' stroke="#000" stroke-width="0.3" >K13</text>
<text transform="translate(132.14,181.09) rotate(-90) scale(0.961,1)" font-size="16.05" font-weight="bold" font-family='"Liberation Sans", sans-serif' stroke="#000" stroke-width="0.3" >% Cell survival</text>
<text transform="translate(15.43,487.31) rotate(-90) scale(0.971,1)" font-size="17.01" font-weight="bold" font-family='"Liberation Sans", sans-serif' stroke="#000" stroke-width="0.3" >% Cell Survival</text>
<text transform="translate(14.23,777.51) rotate(-90) scale(0.972,1)" font-size="17.01" font-weight="bold" font-family='"Liberation Sans", sans-serif' stroke="#000" stroke-width="0.3" >% Cell Survival</text>
<text transform="translate(79,564.21) scale(1.026,1)" font-size="15.87" font-weight="bold" font-family='"Liberation Sans", sans-serif' stroke="#000" stroke-width="0.3" >Lactacystin</text>
<text transform="translate(174.42,564.23) scale(0.811,1)" font-size="16.73" font-weight="bold" font-family='"Liberation Sans", sans-serif' stroke="#000" stroke-width="0.3" >(</text>
<text transform="translate(179.18,560.68) scale(1.272,1)" font-size="14.96" font-weight="normal" font-family='"Liberation Serif", serif' >μ</text>
<text transform="translate(188.93,563.6) scale(1.013,1)" font-size="15.71" font-weight="bold" font-family='"Liberation Sans", sans-serif' stroke="#000" stroke-width="0.3" >M</text>
<text transform="translate(202.47,564.23) scale(0.811,1)" font-size="16.73" font-weight="bold" font-family='"Liberation Sans", sans-serif' stroke="#000" stroke-width="0.3" >)</text>
<text transform="translate(354.89,563.31) scale(1.075,1)" font-size="15.35" font-weight="bold" font-family='"Liberation Sans", sans-serif' stroke="#000" stroke-width="0.3" >MG132</text>
<text transform="translate(413.21,562.73) scale(0.997,1)" font-size="15.76" font-weight="bold" font-family='"Liberation Sans", sans-serif' stroke="#000" stroke-width="0.3" >(</text>
<text transform="translate(418.64,559.78) scale(1.304,1)" font-size="14.96" font-weight="normal" font-family='"Liberation Serif", serif' >μ</text>
<text transform="translate(428.57,563.5) scale(1.058,1)" font-size="15.85" font-weight="bold" font-family='"Liberation Sans", sans-serif' stroke="#000" stroke-width="0.3" >M</text>
<text transform="translate(442.87,562.73) scale(0.702,1)" font-size="15.76" font-weight="bold" font-family='"Liberation Sans", sans-serif' stroke="#000" stroke-width="0.3" >)</text>
<text transform="translate(100.7,865.54) scale(1.032,1)" font-size="15.83" font-weight="bold" font-family='"Liberation Sans", sans-serif' stroke="#000" stroke-width="0.3" >PAO</text>
<text transform="translate(139.55,865.61) scale(0.945,1)" font-size="15.87" font-weight="bold" font-family='"Liberation Sans", sans-serif' stroke="#000" stroke-width="0.3" >(</text>
<text transform="translate(144.7,862.36) scale(1.208,1)" font-size="15.56" font-weight="normal" font-family='"Liberation Serif", serif' >μ</text>
<text transform="translate(154.39,865.6) scale(1.012,1)" font-size="16.29" font-weight="bold" font-family='"Liberation Sans", sans-serif' stroke="#000" stroke-width="0.3" >M</text>
<text transform="translate(168.46,865.61) scale(0.900,1)" font-size="15.87" font-weight="bold" font-family='"Liberation Sans", sans-serif' stroke="#000" stroke-width="0.3" >)</text>
<text transform="translate(348.4,856.14) scale(1.019,1)" font-size="15.55" font-weight="bold" font-family='"Liberation Sans", sans-serif' stroke="#000" stroke-width="0.3" >AS</text>
<text transform="translate(370.55,859.7) scale(1.099,1)" font-size="11.76" font-weight="bold" font-family='"Liberation Sans", sans-serif' stroke="#000" stroke-width="0.3" >2</text>
<text transform="translate(379.03,856.14) scale(0.916,1)" font-size="15.55" font-weight="bold" font-family='"Liberation Sans", sans-serif' stroke="#000" stroke-width="0.3" >O</text>
<text transform="translate(392.8,859.46) scale(1.180,1)" font-size="11.41" font-weight="bold" font-family='"Liberation Sans", sans-serif' stroke="#000" stroke-width="0.3" >3</text>
<text transform="translate(405.03,855.45) scale(0.981,1)" font-size="15.66" font-weight="bold" font-family='"Liberation Sans", sans-serif' stroke="#000" stroke-width="0.3" >(</text>
<text transform="translate(410.52,852.29) scale(1.204,1)" font-size="15.41" font-weight="normal" font-family='"Liberation Serif", serif' >μ</text>
<text transform="translate(420.08,855.9) scale(1.049,1)" font-size="15.85" font-weight="bold" font-family='"Liberation Sans", sans-serif' stroke="#000" stroke-width="0.3" >M</text>
<text transform="translate(434.27,855.45) scale(0.890,1)" font-size="15.66" font-weight="bold" font-family='"Liberation Sans", sans-serif' stroke="#000" stroke-width="0.3" >)</text>
</svg>
</body></html>
